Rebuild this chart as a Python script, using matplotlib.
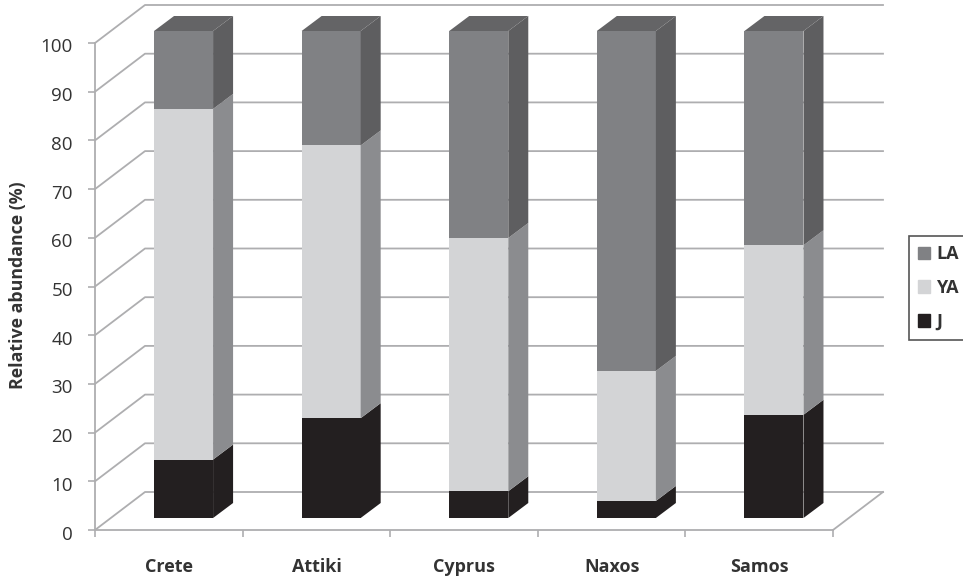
import numpy as np
import matplotlib.pyplot as plt
from matplotlib.patches import Patch
from matplotlib.transforms import ScaledTranslation

plt.rcParams['font.family'] = ['Open Sans', 'DejaVu Sans']

sites = ['Crete', 'Attiki', 'Cyprus', 'Naxos', 'Samos']
J = [12, 20.5, 5.5, 3.5, 21.2]
YA = [72, 56, 52, 26.7, 34.8]
LA = [16, 23.5, 42.5, 69.8, 44]
yticks = list(range(0, 101, 10))

# px scale of the picture: one category 147.6 px, 100 % = 487 px
W, H = 963, 578
wall_dx = 50 / 147.6
wall_dy = 38 / 4.87
bar_dx = 20 / 147.6
bar_dy = 15 / 4.87
floor_y = 12 / 4.87
bar_left = 0.4
bar_w = 0.4

grid_col = '#aeaeb0'
text_col = '#333333'
front = {'J': '#231f20', 'YA': '#d3d4d6', 'LA': '#808184'}
side = {'J': '#231f20', 'YA': '#8b8c8f', 'LA': '#5e5e60'}
top_col = '#646466'

fig = plt.figure(figsize=(W / 100, H / 100), dpi=100)
ax = fig.add_axes([95 / W, (H - 530) / H, 788 / W, 525 / H])
n = len(sites)
ax.set_xlim(0, n + wall_dx)
ax.set_ylim(0, 100 + wall_dy)

# walls and floor
for v in yticks:
    ax.plot([0, wall_dx, n + wall_dx], [v, v + wall_dy, v + wall_dy],
            color=grid_col, lw=1.3, clip_on=False, zorder=1)
ax.plot([n, n + wall_dx], [0, wall_dy], color=grid_col, lw=1.3, clip_on=False, zorder=1)

# stacked bars with side faces
x = np.arange(n) + bar_left
bottom = np.full(n, floor_y)
for name, vals in [('J', J), ('YA', YA), ('LA', LA)]:
    vals = np.array(vals)
    ax.bar(x, vals, bar_w, bottom=bottom, align='edge', color=front[name], zorder=3)
    for xi, b, v in zip(x, bottom, vals):
        xr = xi + bar_w
        ax.fill([xr, xr + bar_dx, xr + bar_dx, xr],
                [b, b + bar_dy, b + v + bar_dy, b + v],
                color=side[name], lw=0, zorder=3)
    bottom = bottom + vals
for xi, b in zip(x, bottom):
    ax.fill([xi, xi + bar_dx, xi + bar_w + bar_dx, xi + bar_w],
            [b, b + bar_dy, b + bar_dy, b], color=top_col, lw=0, zorder=3)

for s in ['top', 'right']:
    ax.spines[s].set_visible(False)
ax.spines['left'].set_bounds(0, 100)
ax.spines['bottom'].set_bounds(0, n)
for s in ['left', 'bottom']:
    ax.spines[s].set_color(grid_col)
    ax.spines[s].set_linewidth(1.3)

ax.set_yticks(yticks)
ax.tick_params(axis='y', colors=grid_col, length=5, width=1.2, pad=11, labelsize=13.5, labelcolor=text_col)
# labels sit a little under their ticks in the original
shift = ScaledTranslation(0, -2.5 / 100, fig.dpi_scale_trans)
for t in ax.get_yticklabels():
    t.set_transform(t.get_transform() + shift)
ax.set_xticks(np.arange(n + 1))
ax.set_xticklabels([])
ax.tick_params(axis='x', which='major', colors=grid_col, length=5, width=1.2)
ax.set_xticks(np.arange(n) + 0.5, labels=sites, minor=True)
ax.tick_params(axis='x', which='minor', length=0, pad=20, labelsize=13, labelcolor=text_col)
for t in ax.get_xticklabels(minor=True):
    t.set_fontweight('bold')

fig.text(18 / W, 1 - 285 / H, 'Relative abundance (%)', rotation=90, ha='center', va='center',
         fontsize=12.8, fontweight='bold', color=text_col)

handles = [Patch(color=front['LA'], label='LA'), Patch(color=front['YA'], label='YA'), Patch(color=front['J'], label='J')]
leg = fig.legend(handles=handles, loc='upper left', bbox_to_anchor=(909 / W, 1 - 236 / H), borderaxespad=0,
                 frameon=True, fancybox=False, edgecolor='#555555', framealpha=1, handlelength=0.67, handleheight=0.67,
                 handletextpad=0.33, labelspacing=0.88, borderpad=0.5, prop={'size': 13, 'weight': 'bold'},
                 labelcolor=text_col)
leg.get_frame().set_linewidth(1.2)

fig.savefig('out.png', dpi=100)
